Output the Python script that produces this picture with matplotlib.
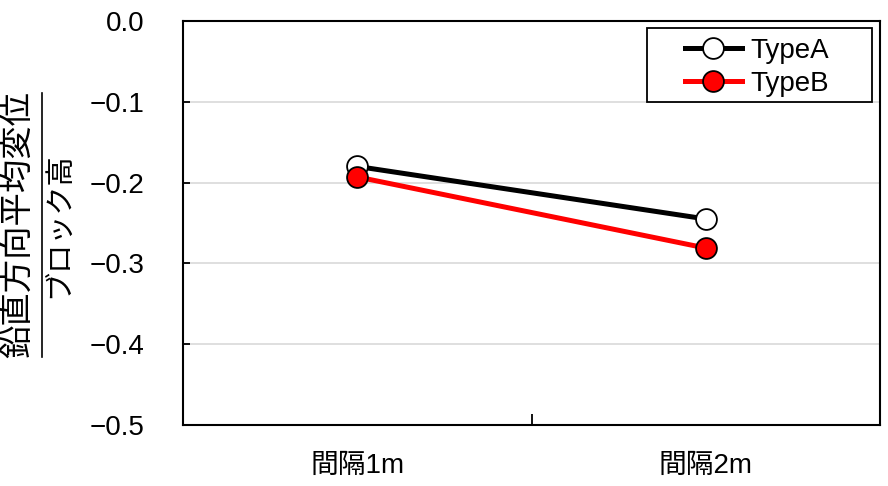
import numpy as np
import matplotlib
matplotlib.use("Agg")
import matplotlib.pyplot as plt
from matplotlib.lines import Line2D
from matplotlib.patches import Rectangle

plt.rcParams['font.family'] = ['Liberation Sans', 'Noto Sans CJK JP', 'DejaVu Sans']

categories = ["間隔1m", "間隔2m"]
type_a = [-0.180, -0.245]
type_b = [-0.193, -0.281]
y_ticks = [0.0, -0.1, -0.2, -0.3, -0.4, -0.5]
numerator = "鉛直方向平均変位"
denominator = "ブロック高"

fig = plt.figure(figsize=(8.88, 4.86), dpi=100)
ax = fig.add_axes([183/888, 1 - 425/486, 697/888, 404/486])

x = np.arange(len(categories))
ax.plot(x, type_a, color="black", lw=3.6, marker="o", ms=15,
        mfc="white", mec="black", mew=1.3, label="TypeA", zorder=3)
ax.plot(x, type_b, color="red", lw=3.6, marker="o", ms=15,
        mfc="red", mec="black", mew=1.3, label="TypeB", zorder=3)

ax.set_xlim(-0.5, 1.5)
ax.set_ylim(-0.5, 0.0)
ax.set_yticks(y_ticks)
ax.set_yticklabels(["0.0" if v == 0 else "\u2212%.1f" % abs(v) for v in y_ticks])
ax.set_xticks(x)
ax.set_xticklabels(categories)
ax.set_xticks([0.5], minor=True)
ax.tick_params(axis="x", which="major", length=0, labelsize=20, pad=20)
ax.tick_params(axis="x", which="minor", direction="in", length=8, width=1.3)
ax.tick_params(axis="y", direction="in", length=5, width=1.3, labelsize=20, pad=28)
ax.grid(axis="y", color="#d9d9d9", lw=1.2)
ax.set_axisbelow(True)
for s in ax.spines.values():
    s.set_linewidth(1.5)

# legend: frame drawn separately so the side padding can be wider than top/bottom
ax.add_patch(Rectangle((0.666, 0.7995), 0.323, 0.183, transform=ax.transAxes,
                       facecolor="white", edgecolor="black", lw=1.3, zorder=4))
leg = ax.legend(loc="upper left", bbox_to_anchor=(0.720, 0.958), borderaxespad=0,
                fontsize=20, frameon=False, borderpad=0,
                handlelength=2.06, handletextpad=0.3, labelspacing=0.25)
leg.set_zorder(5)

# fraction style y label
fig.text(18/888, 1 - 224/486, numerator, rotation=90, fontsize=24,
         ha="center", va="center")
fig.text(59/888, 1 - 225/486, denominator, rotation=90, fontsize=21,
         ha="center", va="center")
fig.add_artist(Line2D([41.5/888, 41.5/888], [1 - 357/486, 1 - 93/486],
                      color="black", lw=1.2, transform=fig.transFigure))

fig.savefig("out.png", dpi=100)
